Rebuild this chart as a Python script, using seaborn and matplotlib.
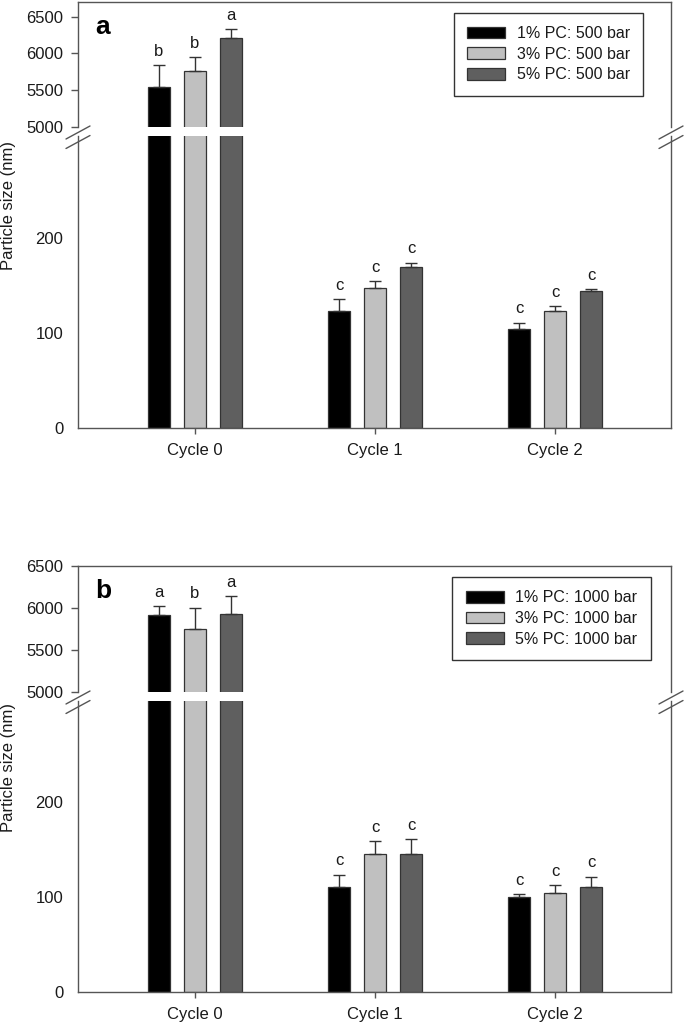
import numpy as np
import pandas as pd
import matplotlib
matplotlib.use("Agg")
import matplotlib.pyplot as plt
import seaborn as sns
from matplotlib.lines import Line2D
from matplotlib.container import BarContainer

# ---------------- data ----------------
cycles = ["Cycle 0", "Cycle 1", "Cycle 2"]

groups_a = ["1% PC: 500 bar", "3% PC: 500 bar", "5% PC: 500 bar"]
means_a_1 = [5545, 123, 104]
means_a_3 = [5755, 147, 123]
means_a_5 = [6214, 169.5, 144]
err_a_1 = [292, 12.7, 6.7]
err_a_3 = [192, 7.8, 5.2]
err_a_5 = [118, 4.5, 2.1]
letters_a_1 = ["b", "c", "c"]
letters_a_3 = ["b", "c", "c"]
letters_a_5 = ["a", "c", "c"]

groups_b = ["1% PC: 1000 bar", "3% PC: 1000 bar", "5% PC: 1000 bar"]
means_b_1 = [5917, 110.7, 100.6]
means_b_3 = [5745, 145.4, 104.8]
means_b_5 = [5924, 145.4, 110.7]
err_b_1 = [103, 13.1, 2.8]
err_b_3 = [260, 13.7, 8.0]
err_b_5 = [216, 15.8, 11.0]
letters_b_1 = ["a", "c", "c"]
letters_b_3 = ["b", "c", "c"]
letters_b_5 = ["a", "c", "c"]

colors = ["#000000", "#c0c0c0", "#5f5f5f"]

upper_ticks = [5000, 5500, 6000, 6500]
lower_ticks = [0, 100, 200]

# ---------------- style ----------------
sns.set_style("ticks")
plt.rcParams["font.family"] = ["Liberation Sans", "DejaVu Sans"]
plt.rcParams["axes.edgecolor"] = "#555555"
plt.rcParams["axes.linewidth"] = 1.0

W, H = 685, 1029
fig = plt.figure(figsize=(W / 100, H / 100), dpi=100)

AX_L, AX_R = 78, 671
TXT = "#1a1a1a"


def rect(top, bottom):
    return [AX_L / W, 1 - bottom / H, (AX_R - AX_L) / W, (bottom - top) / H]


def make_df(groups, means):
    rows = []
    for g, m in zip(groups, means):
        for c, v in zip(cycles, m):
            rows.append({"cycle": c, "group": g, "size": v})
    return pd.DataFrame(rows)


def draw_bars(ax, df, groups, errs, letters, show_legend):
    sns.barplot(data=df, x="cycle", y="size", hue="group", order=cycles,
                hue_order=groups, palette=colors, width=0.6, gap=0.4,
                edgecolor="#333333", linewidth=0.9, errorbar=None, ax=ax,
                legend=show_legend)
    bar_conts = [c for c in ax.containers if isinstance(c, BarContainer)]
    for hi, cont in enumerate(bar_conts):
        for patch in list(cont.patches):
            if patch is None:
                continue
            x = patch.get_x() + patch.get_width() / 2
            ci = int(round(x))
            h = patch.get_height()
            e = errs[hi][ci]
            ax.errorbar(x, h, yerr=[[0], [e]], fmt="none", ecolor="#333333",
                        elinewidth=1.0, capsize=4, capthick=1.0)
            ax.annotate(letters[hi][ci], (x, h + e), xytext=(0, 4.5),
                        textcoords="offset points", ha="center", va="bottom",
                        fontsize=12, color=TXT, annotation_clip=True)
    ax.set_xlim(-0.65, 2.644)
    ax.set_xlabel("")
    ax.set_ylabel("")


def break_marks(top_px, bottom_px):
    for x in (AX_L, AX_R):
        for yc in (top_px + 5.5, bottom_px + 6):
            x0, x1 = x - 12, x + 12
            y0, y1 = yc + 6.5, yc - 6.5
            fig.add_artist(Line2D([x0 / W, x1 / W], [1 - y0 / H, 1 - y1 / H],
                                  color="#555555", lw=1.0,
                                  transform=fig.transFigure))


def panel(groups, means, errs, letters, up_top, up_bot, lo_top, lo_bot,
          up_lim, lo_lim, label, leg_anchor, ylabel_y):
    df = make_df(groups, means)
    axu = fig.add_axes(rect(up_top, up_bot))
    axl = fig.add_axes(rect(lo_top, lo_bot))
    draw_bars(axu, df, groups, errs, letters, True)
    draw_bars(axl, df, groups, errs, letters, False)

    axu.set_ylim(*up_lim)
    axu.set_yticks(upper_ticks)
    axu.spines["bottom"].set_visible(False)
    axu.tick_params(axis="x", bottom=False, labelbottom=False)
    axu.tick_params(axis="y", direction="out", length=5, width=1,
                    color="#555555", labelsize=12, pad=5.5, labelcolor=TXT)

    axl.set_ylim(*lo_lim)
    axl.set_yticks(lower_ticks)
    axl.set_yticks([0], minor=True)
    axl.spines["top"].set_visible(False)
    axl.tick_params(axis="y", which="major", direction="out", length=0,
                    labelsize=12, pad=10.5, labelcolor=TXT)
    axl.tick_params(axis="y", which="minor", direction="out", length=4.5,
                    width=1, color="#555555")
    axl.tick_params(axis="x", direction="out", length=4, width=1,
                    color="#555555", labelsize=12, pad=7, labelcolor=TXT)

    handles, labels = axu.get_legend_handles_labels()
    if axu.get_legend() is not None:
        axu.get_legend().remove()
    leg = axu.legend(handles, labels, loc="upper right",
                     bbox_to_anchor=leg_anchor, borderaxespad=0,
                     fontsize=11.5, frameon=True, fancybox=False,
                     edgecolor="#333333", framealpha=1,
                     handlelength=2.4, handleheight=0.75,
                     handletextpad=0.7, labelspacing=0.35, borderpad=0.84)
    leg.get_frame().set_linewidth(1.0)
    for t in leg.get_texts():
        t.set_color(TXT)

    break_marks(up_bot, lo_top)

    fig.text(103 / W, 1 - (up_top + 25) / H, label, fontsize=19,
             fontweight="bold", ha="center", va="center", color="#000000")
    fig.text(9 / W, 1 - ylabel_y / H, "Particle size (nm)", rotation=90,
             fontsize=12, ha="center", va="center", color=TXT)


panel(groups_a, [means_a_1, means_a_3, means_a_5],
      [err_a_1, err_a_3, err_a_5],
      [letters_a_1, letters_a_3, letters_a_5],
      2, 127, 136, 428, (5000, 6700), (0, 307), "a",
      (0.953, 0.914), 205)

panel(groups_b, [means_b_1, means_b_3, means_b_5],
      [err_b_1, err_b_3, err_b_5],
      [letters_b_1, letters_b_3, letters_b_5],
      566, 692, 701, 992, (5000, 6500), (0, 307), "b",
      (0.966, 0.913), 768)

fig.savefig("out.png", dpi=100)
